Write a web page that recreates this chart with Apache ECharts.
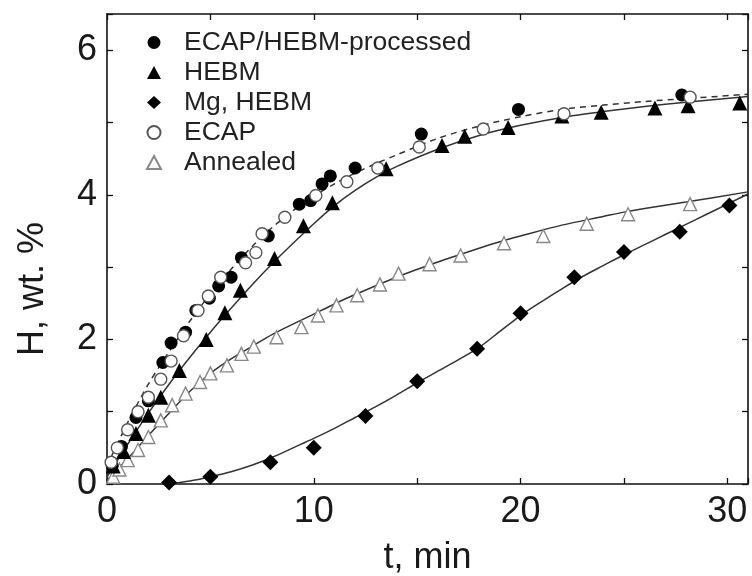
<!DOCTYPE html>
<html>
<head>
<meta charset="utf-8">
<script src="https://cdn.jsdelivr.net/npm/echarts@6/dist/echarts.min.js"></script>
<style>
html,body{margin:0;padding:0;background:#fff;}
#chart{width:752px;height:576px;}
</style>
</head>
<body>
<div id="chart"></div>
<script>
// ---- data (t, min ; H, wt.%) ----
const seriesNames = ['ECAP/HEBM-processed', 'HEBM', 'Mg, HEBM', 'ECAP', 'Annealed'];

const ecapHebm = [[0.25,0.25],[0.7,0.52],[1.4,0.92],[2.0,1.15],[2.7,1.68],[3.1,1.95],[3.8,2.1],[4.3,2.4],[4.95,2.57],[5.4,2.74],[6.0,2.86],[6.5,3.13],[7.8,3.43],[9.3,3.87],[9.85,3.92],[10.4,4.15],[10.8,4.26],[12.0,4.37],[15.2,4.84],[19.9,5.18],[27.8,5.38]];
const hebm = [[0.3,0.25],[0.8,0.45],[1.4,0.7],[2.0,0.95],[2.6,1.2],[3.5,1.57],[4.8,2.0],[5.7,2.37],[6.45,2.68],[8.1,3.12],[9.5,3.57],[10.9,3.89],[13.5,4.36],[16.2,4.68],[17.3,4.81],[19.4,4.93],[22.0,5.09],[23.9,5.14],[26.5,5.2],[28.1,5.23],[30.6,5.27]];
const mgHebm = [[3,0.02],[5,0.1],[7.9,0.3],[10,0.5],[12.5,0.94],[15,1.42],[17.9,1.87],[20,2.36],[22.6,2.86],[25,3.21],[27.7,3.49],[30.1,3.85]];
const ecap = [[0.2,0.3],[0.5,0.5],[1.0,0.75],[1.5,1.0],[2.0,1.2],[2.6,1.45],[3.1,1.7],[3.7,2.05],[4.4,2.4],[4.9,2.6],[5.5,2.86],[6.7,3.06],[7.2,3.2],[7.5,3.46],[8.6,3.69],[10.1,3.99],[11.6,4.18],[13.1,4.37],[15.1,4.66],[18.2,4.91],[22.1,5.12],[28.2,5.35]];
const annealed = [[0.3,0.1],[0.6,0.2],[1.0,0.33],[1.5,0.47],[2.0,0.65],[2.6,0.88],[3.15,1.09],[3.8,1.25],[4.5,1.41],[5.0,1.53],[5.8,1.64],[6.5,1.8],[7.1,1.9],[8.2,2.03],[9.4,2.17],[10.2,2.33],[11.1,2.47],[12.1,2.61],[13.2,2.76],[14.1,2.91],[15.6,3.04],[17.1,3.16],[19.2,3.33],[21.1,3.43],[23.2,3.6],[25.2,3.73],[28.2,3.87]];

// fitted curves
const fitEcapHebm = [[0,0.25],[1,0.85],[2,1.38],[3,1.83],[4,2.25],[5,2.63],[6,2.97],[7,3.28],[8,3.55],[9,3.78],[10,3.98],[11,4.15],[12,4.3],[13,4.43],[14,4.55],[16,4.78],[18,4.95],[20,5.08],[22,5.18],[24,5.24],[26,5.29],[28,5.33],[31,5.39]];
const fitHebm = [[0,0.1],[1,0.55],[2,0.98],[3,1.38],[4,1.75],[5,2.1],[6,2.43],[7,2.75],[8,3.05],[9,3.33],[10,3.6],[11,3.85],[12,4.06],[13,4.24],[14,4.39],[16,4.63],[18,4.82],[20,4.96],[22,5.07],[24,5.15],[26,5.22],[28,5.28],[31,5.36]];
const fitMgHebm = [[3,0.0],[4,0.04],[5,0.1],[6,0.17],[7,0.26],[8,0.37],[9,0.5],[10,0.63],[11,0.77],[12,0.92],[13,1.07],[14,1.23],[15,1.4],[16,1.56],[17,1.72],[18,1.89],[19,2.11],[20,2.33],[21,2.52],[22,2.7],[23,2.87],[24,3.02],[25,3.17],[26,3.31],[27,3.45],[28,3.59],[29,3.73],[30,3.87],[31,4.01]];
const fitAnnealed = [[0,0.05],[1,0.35],[2,0.67],[3,0.98],[4,1.28],[5,1.53],[6,1.73],[7,1.9],[8,2.07],[10,2.35],[11,2.49],[12,2.62],[14,2.86],[16,3.07],[18,3.26],[19,3.35],[20,3.43],[22,3.58],[24,3.7],[25,3.76],[26,3.81],[28,3.9],[31,4.04]];

const xTickLabels = ['0', '10', '20', '30'];
const yTickLabels = ['0', '2', '4', '6'];

// ---- chart ----
const FONT = '"Liberation Sans", Arial, sans-serif';
const TXT = '#1a1a1a';
const LINE = '#333333';
const chart = echarts.init(document.getElementById('chart'), null, {renderer: 'canvas'});

function frameAxis(pos, extra) {
  return Object.assign({
    type: 'value',
    position: pos,
    axisLine: {show: true, onZero: false, lineStyle: {color: '#111', width: 1.6}},
    axisTick: {show: true, inside: true, length: 6, lineStyle: {color: '#111', width: 1.3}},
    splitLine: {show: false},
    axisLabel: {show: false}
  }, extra);
}

const xCommon = {min: 0, max: 31, interval: 5};
const yCommon = {min: 0, max: 6.5, interval: 1};

function scatter(name, data, symbol, size, fill, border, bw, z) {
  return {
    name: name, type: 'scatter', data: data, symbol: symbol, symbolSize: size,
    symbolKeepAspect: true,
    itemStyle: {color: fill, borderColor: border, borderWidth: bw, opacity: 1},
    z: z, animation: false
  };
}
function fit(data, dashed) {
  return {
    type: 'line', data: data, smooth: 0.3, showSymbol: false, symbol: 'none',
    lineStyle: {color: LINE, width: 1.5, type: dashed ? [6, 5] : 'solid'},
    z: 1, silent: true, animation: false
  };
}

chart.setOption({
  backgroundColor: '#ffffff',
  animation: false,
  grid: {left: 107, right: 4, top: 14, bottom: 92, containLabel: false, outerBoundsMode: 'none'},
  legend: {
    data: seriesNames,
    orient: 'vertical',
    left: 141, top: 24,
    itemWidth: 14, itemHeight: 13, itemGap: 3,
    textStyle: {fontFamily: FONT, fontSize: 26.5, color: '#222', padding: [0, 0, 0, 18]},
    selectedMode: false
  },
  xAxis: [
    frameAxis('bottom', Object.assign({}, xCommon, {
      name: 't, min', nameLocation: 'middle', nameGap: 56,
      nameTextStyle: {fontFamily: FONT, fontSize: 36, color: TXT},
      axisLabel: {show: true, margin: 10, fontFamily: FONT, fontSize: 36, color: TXT,
        formatter: function (v) { const s = String(v); return xTickLabels.indexOf(s) >= 0 ? s : ''; }}
    })),
    frameAxis('top', Object.assign({}, xCommon))
  ],
  yAxis: [
    frameAxis('left', Object.assign({}, yCommon, {
      name: 'H, wt. %', nameLocation: 'middle', nameGap: 56, nameRotate: 90,
      nameTextStyle: {fontFamily: FONT, fontSize: 36, color: TXT, padding: [0, 80, 0, 0]},
      axisLabel: {show: true, margin: 10, fontFamily: FONT, fontSize: 36, color: TXT,
        formatter: function (v) { const s = String(v); return yTickLabels.indexOf(s) >= 0 ? s : ''; }}
    })),
    frameAxis('right', Object.assign({}, yCommon))
  ],
  series: [
    fit(fitEcapHebm, true),
    fit(fitHebm, false),
    fit(fitMgHebm, false),
    fit(fitAnnealed, false),
    scatter('Annealed', annealed, 'triangle', 13, '#ffffff', '#888888', 1.4, 3),
    scatter('Mg, HEBM', mgHebm, 'diamond', 16, '#000000', '#000000', 0, 4),
    scatter('HEBM', hebm, 'triangle', 15, '#000000', '#000000', 0, 5),
    scatter('ECAP/HEBM-processed', ecapHebm, 'circle', 13, '#000000', '#000000', 0, 6),
    scatter('ECAP', ecap, 'circle', 12, '#ffffff', '#555555', 1.4, 7)
  ]
});
</script>
</body>
</html>
